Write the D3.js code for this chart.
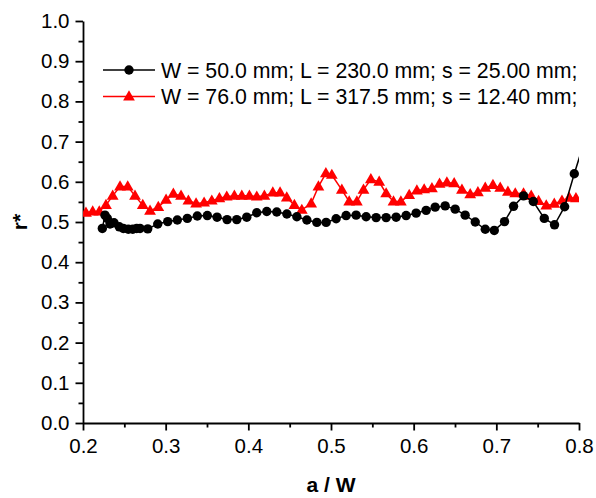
<!DOCTYPE html>
<html>
<head>
<meta charset="utf-8">
<script src="https://cdn.jsdelivr.net/npm/d3@7"></script>
<style>
  body { margin: 0; background: #fff; }
  svg { display: block; }
  text { font-family: "Liberation Sans", Arial, sans-serif; }
  .axis path, .axis line { stroke: #000; stroke-width: 1.8; }
  .axis text { font-size: 20.5px; fill: #000; }
</style>
</head>
<body>
<svg id="chart"></svg>
<script>
// W = 50 mm series
var blackX = [0.2234, 0.2266, 0.2294, 0.2327, 0.2375, 0.2439, 0.2488, 0.2548, 0.2602, 0.2650,
  0.2690, 0.2783, 0.2904, 0.3025, 0.3141, 0.3262, 0.3383, 0.3504, 0.3622, 0.3743,
  0.3860, 0.3981, 0.4102, 0.4223, 0.4344, 0.4466, 0.4587, 0.4708, 0.4829, 0.4941,
  0.5062, 0.5183, 0.5304, 0.5425, 0.5546, 0.5667, 0.5788, 0.5909, 0.6030, 0.6151,
  0.6260, 0.6381, 0.6502, 0.6623, 0.6745, 0.6866, 0.6975, 0.7099, 0.7208, 0.7329,
  0.7447, 0.7580, 0.7704, 0.7826, 0.7943, 0.8064];
var blackY = [0.484, 0.517, 0.509, 0.495, 0.498, 0.488, 0.484, 0.482, 0.482, 0.484,
  0.484, 0.483, 0.495, 0.501, 0.505, 0.509, 0.515, 0.516, 0.512, 0.506,
  0.506, 0.512, 0.523, 0.526, 0.525, 0.520, 0.513, 0.505, 0.499, 0.499,
  0.508, 0.516, 0.517, 0.513, 0.511, 0.511, 0.512, 0.516, 0.522, 0.529,
  0.537, 0.540, 0.532, 0.517, 0.500, 0.482, 0.479, 0.501, 0.539, 0.565,
  0.551, 0.509, 0.493, 0.538, 0.620, 0.700];

// W = 76 mm series
var redX = [0.2036, 0.2117, 0.2197, 0.2278, 0.2359, 0.2448, 0.2541, 0.2629, 0.2723, 0.2811,
  0.2911, 0.3005, 0.3093, 0.3186, 0.3275, 0.3368, 0.3465, 0.3558, 0.3650, 0.3739,
  0.3831, 0.3921, 0.4013, 0.4102, 0.4194, 0.4296, 0.4384, 0.4465, 0.4557, 0.4647,
  0.4760, 0.4848, 0.4938, 0.5010, 0.5131, 0.5220, 0.5313, 0.5393, 0.5482, 0.5583,
  0.5667, 0.5756, 0.5845, 0.5946, 0.6039, 0.6127, 0.6221, 0.6313, 0.6402, 0.6490,
  0.6584, 0.6684, 0.6777, 0.6866, 0.6959, 0.7047, 0.7140, 0.7229, 0.7329, 0.7422,
  0.7511, 0.7604, 0.7701, 0.7794, 0.7882, 0.7963];
var redY = [0.523, 0.526, 0.526, 0.542, 0.565, 0.588, 0.588, 0.565, 0.542, 0.528,
  0.537, 0.555, 0.570, 0.565, 0.553, 0.546, 0.548, 0.553, 0.559, 0.563,
  0.565, 0.565, 0.565, 0.563, 0.565, 0.573, 0.573, 0.561, 0.542, 0.530,
  0.546, 0.588, 0.621, 0.617, 0.580, 0.551, 0.551, 0.580, 0.606, 0.600,
  0.571, 0.551, 0.551, 0.567, 0.578, 0.581, 0.584, 0.595, 0.598, 0.596,
  0.580, 0.569, 0.574, 0.585, 0.592, 0.585, 0.575, 0.571, 0.571, 0.565,
  0.552, 0.541, 0.545, 0.553, 0.560, 0.559];

var legendLabels = ["W = 50.0 mm; L = 230.0 mm; s = 25.00 mm;",
                    "W = 76.0 mm; L = 317.5 mm; s = 12.40 mm;"];
var xTicks = [0.2, 0.3, 0.4, 0.5, 0.6, 0.7, 0.8];
var yTicks = [0.0, 0.1, 0.2, 0.3, 0.4, 0.5, 0.6, 0.7, 0.8, 0.9, 1.0];

var width = 596, height = 498;
var margin = {left: 83, right: 17, top: 21, bottom: 75};

var svg = d3.select('#chart').attr('width', width).attr('height', height);

var x = d3.scaleLinear().domain([0.2, 0.8]).range([margin.left, width - margin.right]);
var y = d3.scaleLinear().domain([0, 1]).range([height - margin.bottom, margin.top]);

svg.append('defs').append('clipPath').attr('id', 'clip')
  .append('rect')
  .attr('x', margin.left).attr('y', margin.top)
  .attr('width', width - margin.left - margin.right)
  .attr('height', height - margin.top - margin.bottom);

// minor ticks
svg.append('g').attr('class', 'axis')
  .attr('transform', 'translate(0,' + y(0) + ')')
  .call(d3.axisBottom(x).tickValues(d3.range(0.25, 0.8, 0.1)).tickSize(4.5).tickFormat(''))
  .select('.domain').remove();
svg.append('g').attr('class', 'axis')
  .attr('transform', 'translate(' + x(0.2) + ',0)')
  .call(d3.axisLeft(y).tickValues(d3.range(0.05, 1, 0.1)).tickSize(4.5).tickFormat(''))
  .select('.domain').remove();

// major axes
svg.append('g').attr('class', 'axis')
  .attr('transform', 'translate(0,' + y(0) + ')')
  .call(d3.axisBottom(x).tickValues(xTicks).tickSize(7.5).tickSizeOuter(0).tickPadding(8)
    .tickFormat(d3.format('.1f')));
svg.append('g').attr('class', 'axis')
  .attr('transform', 'translate(' + x(0.2) + ',0)')
  .call(d3.axisLeft(y).tickValues(yTicks).tickSize(7.5).tickSizeOuter(0).tickPadding(6)
    .tickFormat(d3.format('.1f')));

// axis titles
svg.append('text')
  .attr('x', (x(0.2) + x(0.8)) / 2).attr('y', 492)
  .attr('text-anchor', 'middle')
  .style('font-size', '21px').style('font-weight', 'bold')
  .text('a / W');
svg.append('text')
  .attr('transform', 'translate(27,' + y(0.5) + ') rotate(-90)')
  .attr('text-anchor', 'middle')
  .style('font-size', '21px').style('font-weight', 'bold')
  .text('r*');

var black = blackX.map(function(d, i){ return {x: d, y: blackY[i]}; });
var red = redX.map(function(d, i){ return {x: d, y: redY[i]}; });

var line = d3.line()
  .x(function(d){ return x(d.x); })
  .y(function(d){ return y(d.y); });

var tri = d3.symbol().type(d3.symbolTriangle).size(60);

var plot = svg.append('g').attr('clip-path', 'url(#clip)');

plot.append('path').datum(red)
  .attr('fill', 'none').attr('stroke', '#ff0000').attr('stroke-width', 1.5)
  .attr('d', line);
plot.selectAll('.tri').data(red).enter().append('path')
  .attr('class', 'tri')
  .attr('transform', function(d){ return 'translate(' + x(d.x) + ',' + (y(d.y) + 0.5) + ')'; })
  .attr('d', tri)
  .attr('fill', '#ff0000');

plot.append('path').datum(black)
  .attr('fill', 'none').attr('stroke', '#000').attr('stroke-width', 1.5)
  .attr('d', line);
plot.selectAll('.dot').data(black.filter(function(d){ return d.x <= 0.8; })).enter().append('circle')
  .attr('class', 'dot')
  .attr('cx', function(d){ return x(d.x); })
  .attr('cy', function(d){ return y(d.y); })
  .attr('r', 4.7)
  .attr('fill', '#000');

// legend
var legend = svg.append('g').attr('transform', 'translate(103,70)');
legendLabels.forEach(function(label, i){
  var g = legend.append('g').attr('transform', 'translate(0,' + (i * 26.5) + ')');
  var col = i === 0 ? '#000' : '#ff0000';
  g.append('line').attr('x1', 0).attr('x2', 52).attr('y1', 0).attr('y2', 0)
    .attr('stroke', col).attr('stroke-width', 1.6);
  if (i === 0) {
    g.append('circle').attr('cx', 26).attr('cy', 0).attr('r', 4.7).attr('fill', col);
  } else {
    g.append('path').attr('transform', 'translate(26,0.5)').attr('d', tri).attr('fill', col);
  }
  g.append('text').attr('x', 58).attr('y', 7.5)
    .style('font-size', '21.3px').text(label);
});
</script>
</body>
</html>
